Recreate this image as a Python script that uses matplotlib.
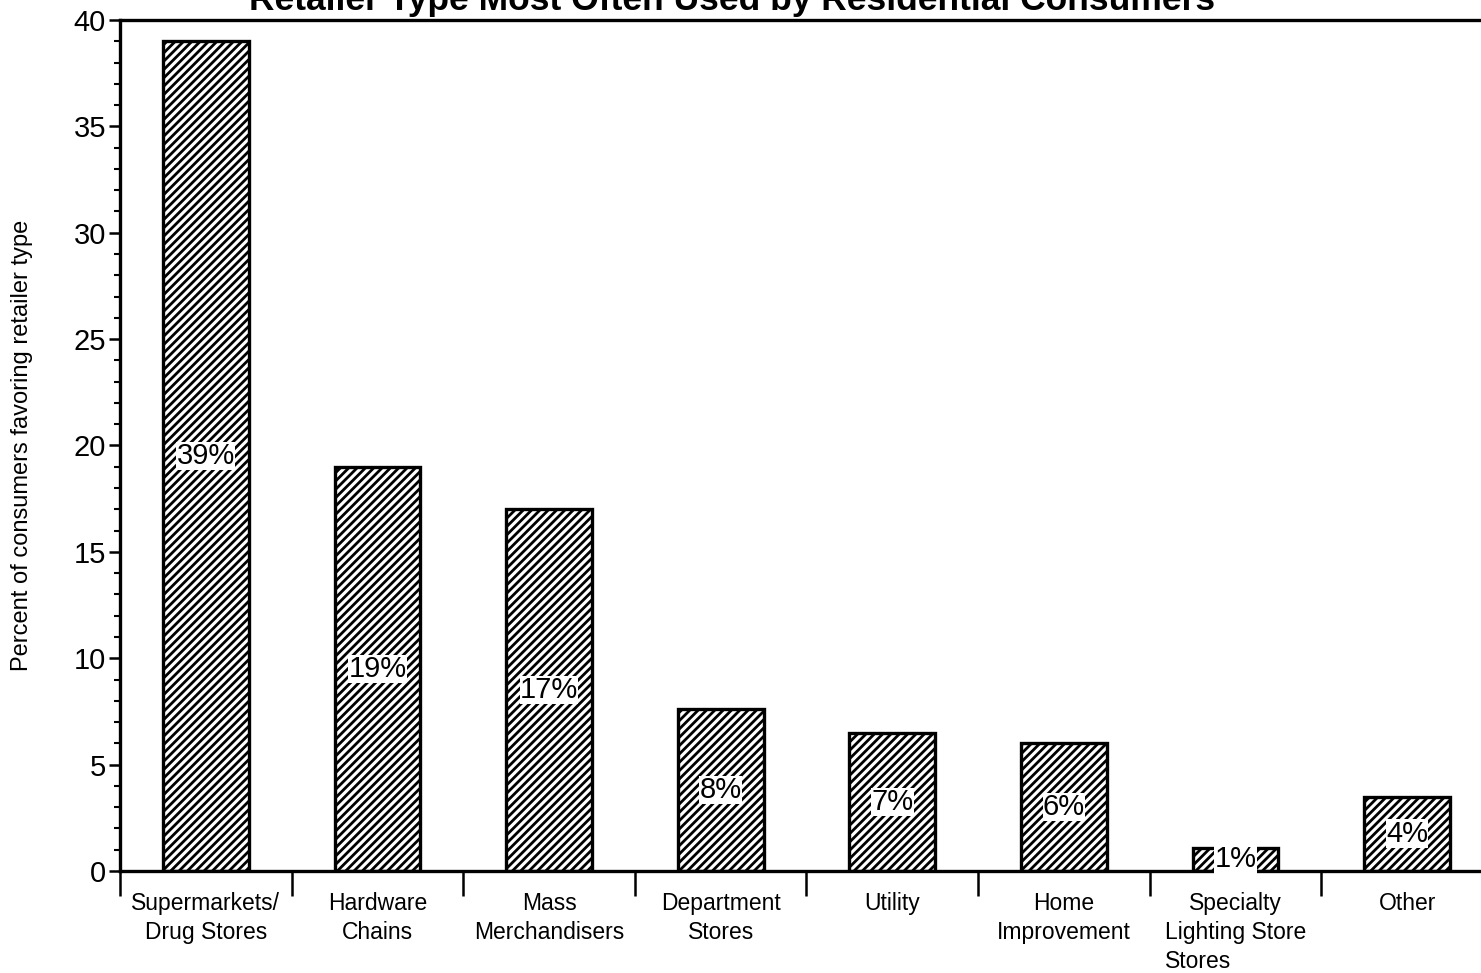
import matplotlib
matplotlib.use("Agg")
import matplotlib.pyplot as plt
import matplotlib.transforms as mtransforms
from matplotlib.ticker import MultipleLocator, FixedLocator, NullFormatter

categories = ["Supermarkets/\nDrug Stores", "Hardware\nChains", "Mass\nMerchandisers",
              "Department\nStores", "Utility", "Home\nImprovement",
              "Specialty\nLighting Store\nStores", "Other"]
values = [39.0, 19.0, 17.0, 7.6, 6.5, 6.0, 1.1, 3.5]
labels = ["39%", "19%", "17%", "8%", "7%", "6%", "1%", "4%"]
title = "Retailer Type Most Often Used by Residential Consumers"
ylabel = "Percent of consumers favoring retailer type"

plt.rcParams['font.family'] = ['Liberation Sans', 'DejaVu Sans']
plt.rcParams['hatch.linewidth'] = 2.0

fig = plt.figure(figsize=(14.81, 9.73), dpi=100)
ax = fig.add_axes([120/1481, 1-871/973, (1493-120)/1481, (871-20)/973])

x = list(range(len(categories)))
ax.bar(x, values, width=0.5, color='white', edgecolor='black', linewidth=2.4, hatch='////')

for xi, v, lab in zip(x, values, labels):
    ax.text(xi, v/2, lab, ha='center', va='center', fontsize=21,
            bbox=dict(facecolor='white', edgecolor='none', pad=0.3))

ax.set_xlim(-0.5, len(categories)-0.5)
ax.set_ylim(0, 40)
ax.yaxis.set_major_locator(MultipleLocator(5))
ax.yaxis.set_minor_locator(MultipleLocator(1))
ax.tick_params(axis='y', which='major', length=8, width=1.8, labelsize=21, pad=2)
ax.tick_params(axis='y', which='minor', length=4, width=1.5)

LS = 16.5
# first two lines as tick labels; a third line is drawn left-aligned as in the original
tick_texts = []
extra = []
for xi, c in zip(x, categories):
    parts = c.split("\n")
    if len(parts) > 2:
        tick_texts.append("\n".join(parts[:2]))
        extra.append((xi, parts[1], "\n".join(parts[2:])))
    else:
        tick_texts.append(c)

ax.xaxis.set_major_locator(FixedLocator([i - 0.5 for i in range(len(categories)+1)]))
ax.xaxis.set_major_formatter(NullFormatter())
ax.xaxis.set_minor_locator(FixedLocator(x))
ax.set_xticklabels(tick_texts, minor=True, va='top')
ax.tick_params(axis='x', which='major', length=18, width=1.8)
ax.tick_params(axis='x', which='minor', length=0, labelsize=LS, pad=15)
for t in ax.get_xticklabels(minor=True):
    t.set_linespacing(1.33)

for s in ['left', 'bottom', 'top', 'right']:
    ax.spines[s].set_linewidth(2.4)

ax.set_ylabel(ylabel, fontsize=17)
ax.yaxis.set_label_coords((33-120)/(1493-120), 0.5)

fig.text(732/1481, 1 - 10/973, title, ha='center', va='baseline', fontsize=25.5,
         fontweight='bold')

fig.canvas.draw()
renderer = fig.canvas.get_renderer()
for xi, ref_line, rest in extra:
    tmp = fig.text(0, 0, ref_line, fontsize=LS)
    w = tmp.get_window_extent(renderer).width
    tmp.remove()
    tr = mtransforms.blended_transform_factory(ax.transData, ax.transAxes)
    off = mtransforms.ScaledTranslation(-w/2/fig.dpi, -79/fig.dpi, fig.dpi_scale_trans)
    ax.text(xi, 0, rest, ha='left', va='top', fontsize=LS,
            transform=tr + off, clip_on=False)

fig.savefig("out.png", dpi=100)
